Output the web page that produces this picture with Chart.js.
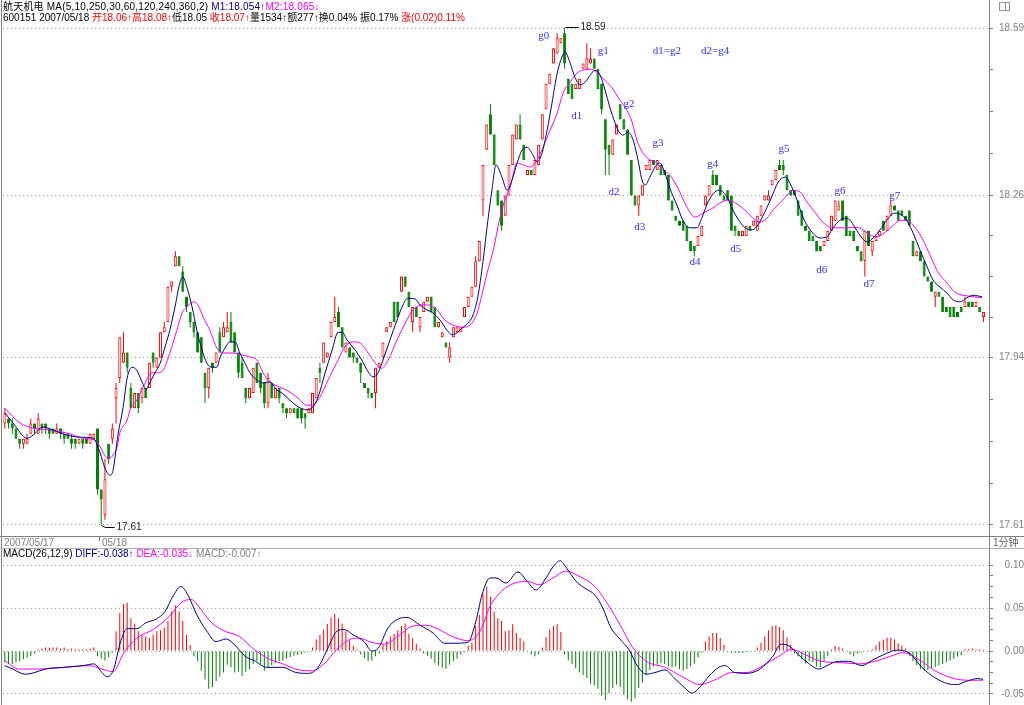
<!DOCTYPE html>
<html>
<head>
<meta charset="utf-8">
<title>航天机电 1分钟</title>
<script src="https://cdn.jsdelivr.net/npm/chart.js@4.4.1/dist/chart.umd.min.js"></script>
<style>
  html, body { margin: 0; padding: 0; background: #fff; }
  body { position: relative; width: 1024px; height: 705px; overflow: hidden;
         font: 10px "Liberation Sans", "Noto Sans CJK SC", sans-serif; color: #000; }
  canvas { position: absolute; left: 0; }
  #priceCanvas { top: 0; }
  #macdCanvas { top: 549px; }
  .txt { position: absolute; white-space: nowrap; line-height: 11px; }
  .ln { position: absolute; background: #808080; }
  .red { color: #ff0000; }
  .navy { color: #000080; }
  .mag { color: #ff00ff; }
  .gray { color: #808080; }
</style>
</head>
<body>
<canvas id="priceCanvas" width="1024" height="536"></canvas>
<canvas id="macdCanvas" width="1024" height="156"></canvas>

<div class="txt" style="left:3px;top:1px;letter-spacing:0.2px">航天机电 MA(5,10,250,30,60,120,240,360,2) <span class="navy">M1:18.054↑</span><span class="mag">M2:18.065↓</span></div>
<div class="txt" style="left:3px;top:12px">600151 2007/05/18 <span class="red">开18.06↑高18.08↑</span>低18.05 <span class="red">收18.07↑</span>量1534↑额277↑换0.04% 振0.17% <span class="red">涨(0.02)0.11%</span></div>

<div class="ln" style="left:1px;top:0;width:1px;height:705px"></div>
<div class="ln" style="left:989px;top:0;width:1px;height:705px"></div>
<div class="ln" style="left:0;top:536px;width:1024px;height:1px"></div>
<div class="ln" style="left:0;top:548px;width:1024px;height:1px;background:#b0b0b0"></div>
<div class="ln" style="left:99px;top:537px;width:1px;height:4px"></div>
<div style="position:absolute;left:999px;top:2px;width:9px;height:7px;border:1px solid #909090"></div>
<div class="ln" style="left:1005px;top:2px;width:1px;height:9px;background:#909090"></div>

<div class="txt gray" style="left:4px;top:537px">2007/05/17</div>
<div class="txt gray" style="left:102px;top:537px">05/18</div>
<div class="txt" style="left:993px;top:537px;color:#606060">1分钟</div>
<div class="txt" style="left:3px;top:548px">MACD(26,12,9) <span class="navy">DIFF:-0.038↑</span> <span class="mag">DEA:-0.035↓</span> <span class="gray">MACD:-0.007↑</span></div>

<script>
// one-minute bars: 25 from 05/17 close, then 05/18
const opens = [
  17.81,17.82,17.81,17.80,17.78,17.77,17.77,17.79,17.81,17.79,
  17.81,17.81,17.80,17.80,17.79,17.80,17.79,17.79,17.78,17.78,
  17.77,17.78,17.78,17.77,17.78,17.80,17.68,17.63,17.77,17.78,
  17.86,17.90,17.93,17.95,17.88,17.84,17.87,17.86,17.88,17.88,
  17.95,17.92,17.94,17.99,18.01,18.08,18.12,18.14,18.11,18.06,
  18.03,18.01,17.99,17.98,17.91,17.88,17.93,17.93,17.99,17.98,
  17.99,18.01,17.99,17.95,17.93,17.88,17.86,17.87,17.93,17.91,
  17.89,17.85,17.89,17.86,17.88,17.85,17.84,17.83,17.84,17.84,
  17.84,17.83,17.83,17.83,17.86,17.92,17.93,17.94,17.98,18.01,
  18.03,18.00,17.95,17.96,17.95,17.94,17.93,17.89,17.88,17.87,
  17.87,17.92,17.94,17.99,18.00,18.05,18.05,18.07,18.10,18.07,
  18.01,18.04,18.00,18.03,18.05,18.06,18.04,18.00,17.98,17.97,
  17.94,17.98,17.99,17.99,18.02,18.04,18.06,18.08,18.13,18.25,
  18.35,18.42,18.38,18.27,18.25,18.22,18.26,18.32,18.37,18.40,
  18.36,18.30,18.31,18.30,18.32,18.37,18.43,18.48,18.52,18.54,
  18.56,18.58,18.49,18.48,18.47,18.47,18.51,18.51,18.52,18.53,
  18.51,18.48,18.41,18.36,18.34,18.38,18.44,18.41,18.39,18.33,
  18.26,18.24,18.26,18.31,18.31,18.33,18.31,18.32,18.31,18.30,
  18.25,18.22,18.21,18.21,18.20,18.17,18.16,18.16,18.18,18.24,
  18.26,18.30,18.30,18.28,18.26,18.27,18.26,18.20,18.19,18.18,
  18.18,18.20,18.20,18.19,18.22,18.25,18.25,18.28,18.29,18.32,
  18.32,18.30,18.27,18.27,18.25,18.23,18.20,18.19,18.18,18.17,
  18.16,18.16,18.17,18.19,18.21,18.23,18.25,18.22,18.19,18.19,
  18.16,18.15,18.13,18.19,18.15,18.17,18.18,18.21,18.19,18.22,
  18.24,18.23,18.23,18.22,18.23,18.17,18.14,18.15,18.13,18.10,
  18.09,18.06,18.07,18.06,18.04,18.04,18.04,18.03,18.04,18.04,
  18.05,18.05,18.04,18.04,18.02
];
const closes = [
  17.83,17.81,17.80,17.78,17.77,17.78,17.78,17.81,17.80,17.82,
  17.80,17.80,17.79,17.79,17.80,17.79,17.78,17.78,17.77,17.77,
  17.78,17.77,17.77,17.79,17.79,17.68,17.66,17.70,17.74,17.80,
  17.88,17.98,17.95,17.92,17.84,17.87,17.84,17.88,17.86,17.93,
  17.93,17.94,17.99,18.00,18.08,18.09,18.14,18.12,18.07,18.04,
  18.01,17.99,17.95,17.93,17.88,17.92,17.92,17.95,17.95,18.00,
  18.00,17.97,17.95,17.91,17.90,17.86,17.88,17.92,17.89,17.88,
  17.85,17.90,17.86,17.88,17.86,17.84,17.83,17.84,17.83,17.82,
  17.82,17.82,17.84,17.87,17.90,17.91,17.97,17.95,18.01,18.02,
  18.00,17.96,17.97,17.94,17.94,17.93,17.91,17.88,17.87,17.86,
  17.92,17.93,17.97,18.00,18.01,18.01,18.02,18.10,18.08,18.04,
  18.04,18.02,18.02,18.05,18.06,18.03,18.00,18.01,17.99,17.96,
  17.96,18.00,18.00,18.00,18.04,18.06,18.08,18.13,18.17,18.32,
  18.40,18.38,18.32,18.24,18.20,18.26,18.32,18.38,18.40,18.37,
  18.33,18.31,18.30,18.33,18.36,18.42,18.48,18.50,18.55,18.57,
  18.57,18.52,18.46,18.45,18.48,18.49,18.52,18.53,18.53,18.51,
  18.47,18.43,18.35,18.34,18.37,18.40,18.41,18.39,18.34,18.26,
  18.24,18.26,18.28,18.32,18.33,18.32,18.33,18.30,18.30,18.25,
  18.23,18.21,18.20,18.19,18.17,18.15,18.15,18.18,18.20,18.26,
  18.28,18.28,18.28,18.26,18.25,18.25,18.19,18.19,18.18,18.19,
  18.20,18.19,18.21,18.22,18.24,18.26,18.26,18.29,18.31,18.31,
  18.31,18.27,18.26,18.26,18.22,18.20,18.19,18.17,18.17,18.15,
  18.15,18.17,18.19,18.22,18.25,18.24,18.21,18.18,18.18,18.17,
  18.15,18.13,18.19,18.16,18.17,18.18,18.19,18.19,18.22,18.24,
  18.23,18.21,18.22,18.21,18.20,18.14,18.15,18.13,18.10,18.09,
  18.07,18.07,18.06,18.03,18.03,18.02,18.02,18.02,18.03,18.05,
  18.04,18.04,18.05,18.03,18.03
];
const highs = [
  17.84,17.82,17.82,17.80,17.78,17.78,17.79,17.82,17.81,17.83,
  17.81,17.81,17.80,17.80,17.81,17.80,17.79,17.79,17.79,17.78,
  17.78,17.78,17.78,17.79,17.79,17.80,17.68,17.74,17.77,17.81,
  17.89,17.98,17.99,17.95,17.89,17.87,17.87,17.88,17.88,17.93,
  17.95,17.94,17.99,18.01,18.08,18.09,18.15,18.14,18.12,18.06,
  18.03,18.01,17.99,17.98,17.91,17.92,17.93,17.95,18.00,18.01,
  18.03,18.03,17.99,17.95,17.94,17.88,17.88,17.92,17.93,17.91,
  17.89,17.91,17.89,17.88,17.88,17.85,17.84,17.84,17.84,17.84,
  17.84,17.83,17.84,17.87,17.90,17.93,17.97,17.95,18.01,18.06,
  18.04,18.00,17.97,17.96,17.95,17.94,17.93,17.89,17.88,17.87,
  17.92,17.93,17.97,18.00,18.01,18.05,18.05,18.10,18.10,18.07,
  18.04,18.04,18.02,18.05,18.06,18.06,18.04,18.01,17.99,17.97,
  17.97,18.00,18.00,18.00,18.04,18.06,18.08,18.14,18.17,18.32,
  18.40,18.44,18.38,18.27,18.25,18.26,18.32,18.38,18.40,18.42,
  18.36,18.31,18.31,18.33,18.36,18.42,18.48,18.50,18.55,18.58,
  18.57,18.59,18.49,18.48,18.48,18.49,18.52,18.56,18.55,18.53,
  18.51,18.48,18.41,18.36,18.37,18.40,18.44,18.41,18.39,18.33,
  18.26,18.26,18.28,18.32,18.33,18.33,18.33,18.32,18.31,18.30,
  18.25,18.22,18.21,18.21,18.20,18.17,18.16,18.18,18.20,18.26,
  18.28,18.31,18.30,18.28,18.26,18.27,18.26,18.20,18.19,18.19,
  18.20,18.20,18.21,18.22,18.24,18.26,18.27,18.29,18.31,18.33,
  18.33,18.30,18.27,18.27,18.25,18.23,18.20,18.19,18.18,18.17,
  18.16,18.17,18.19,18.22,18.25,18.25,18.25,18.22,18.19,18.19,
  18.16,18.15,18.19,18.19,18.17,18.18,18.19,18.21,18.22,18.25,
  18.24,18.23,18.23,18.22,18.23,18.17,18.15,18.15,18.13,18.10,
  18.09,18.07,18.07,18.06,18.04,18.04,18.04,18.03,18.04,18.06,
  18.05,18.05,18.05,18.04,18.03
];
const lows = [
  17.80,17.80,17.79,17.78,17.76,17.76,17.77,17.79,17.79,17.79,
  17.79,17.79,17.78,17.79,17.79,17.78,17.77,17.78,17.76,17.76,
  17.77,17.76,17.77,17.77,17.78,17.67,17.61,17.62,17.73,17.77,
  17.81,17.89,17.93,17.91,17.84,17.84,17.83,17.85,17.86,17.88,
  17.92,17.92,17.94,17.99,18.01,18.07,18.12,18.12,18.07,18.03,
  18.00,17.98,17.95,17.93,17.85,17.86,17.91,17.93,17.95,17.98,
  17.99,17.97,17.95,17.90,17.90,17.85,17.86,17.87,17.89,17.87,
  17.84,17.84,17.86,17.86,17.85,17.83,17.82,17.83,17.83,17.82,
  17.81,17.80,17.83,17.83,17.86,17.89,17.93,17.94,17.98,18.01,
  18.00,17.96,17.95,17.94,17.93,17.93,17.89,17.88,17.86,17.86,
  17.84,17.92,17.94,17.99,18.00,18.01,18.02,18.07,18.08,18.04,
  17.99,18.02,17.99,18.03,18.05,18.03,18.00,18.00,17.98,17.96,
  17.93,17.98,17.99,17.99,18.02,18.04,18.06,18.08,18.13,18.22,
  18.35,18.38,18.32,18.24,18.19,18.22,18.26,18.32,18.37,18.37,
  18.33,18.30,18.30,18.30,18.32,18.37,18.43,18.48,18.52,18.54,
  18.56,18.51,18.46,18.45,18.47,18.47,18.51,18.51,18.52,18.51,
  18.47,18.42,18.30,18.30,18.34,18.38,18.41,18.39,18.34,18.26,
  18.24,18.22,18.26,18.31,18.31,18.32,18.31,18.30,18.30,18.25,
  18.23,18.21,18.20,18.19,18.17,18.15,18.14,18.16,18.18,18.24,
  18.26,18.28,18.28,18.26,18.25,18.25,18.19,18.18,18.18,18.18,
  18.18,18.19,18.20,18.19,18.22,18.25,18.25,18.28,18.29,18.31,
  18.30,18.27,18.26,18.26,18.22,18.20,18.19,18.17,18.17,18.15,
  18.15,18.16,18.17,18.19,18.21,18.23,18.21,18.18,18.18,18.17,
  18.15,18.13,18.10,18.16,18.14,18.17,18.18,18.19,18.19,18.22,
  18.23,18.21,18.22,18.21,18.20,18.14,18.14,18.13,18.10,18.09,
  18.07,18.04,18.06,18.03,18.03,18.02,18.02,18.02,18.03,18.04,
  18.04,18.04,18.04,18.03,18.01
];

// moving-average lines: [bar index, price]
const ma5Line = [[0,17.831],[2.2,17.811],[6,17.781],[7.6,17.787],[10.3,17.803],[13,17.797],[16.8,17.787],[20.3,17.783],[23.8,17.781],[25.7,17.752],[27,17.722],[28.4,17.708],[29.2,17.718],[30.5,17.787],[31.9,17.842],[33,17.9],[34.3,17.921],[35.6,17.915],[37,17.892],[38.1,17.878],[39.2,17.892],[40.5,17.91],[41.9,17.929],[43.2,17.961],[44.5,17.994],[45.9,18.04],[47.2,18.087],[48,18.099],[49.1,18.079],[50.5,18.04],[51.8,17.994],[53.2,17.955],[54.5,17.929],[55.9,17.921],[57.2,17.921],[58,17.939],[59.4,17.959],[60.7,17.971],[62.1,17.971],[63.4,17.949],[64.8,17.929],[66.1,17.91],[68,17.896],[69.6,17.89],[71.5,17.892],[73.4,17.876],[74.8,17.87],[76.9,17.856],[79.1,17.843],[81.5,17.837],[82.9,17.841],[84.5,17.862],[86.4,17.91],[88.3,17.955],[89.9,17.99],[91,17.99],[92.3,17.975],[94.5,17.955],[96.3,17.935],[98,17.912],[99.3,17.902],[100.7,17.91],[102,17.935],[103.9,17.975],[105.8,18.014],[107.4,18.044],[108.7,18.057],[110.6,18.056],[112,18.044],[113.9,18.034],[115.5,18.028],[117.4,18.014],[119.3,17.994],[120.6,17.985],[122,17.989],[123.3,17.998],[124.9,18.008],[126.3,18.024],[127.6,18.06],[129,18.13],[130.3,18.21],[131.4,18.27],[132.5,18.32],[134.1,18.296],[135.5,18.27],[136.8,18.29],[138.2,18.324],[139.5,18.349],[140.9,18.355],[142.2,18.343],[143.6,18.326],[144.9,18.343],[146.3,18.389],[147.6,18.442],[149,18.501],[150.3,18.533],[151.1,18.543],[152.5,18.521],[153.8,18.493],[155.2,18.478],[156.5,18.483],[157.9,18.497],[159.2,18.507],[160.6,18.497],[161.9,18.468],[163.2,18.434],[164.6,18.403],[165.9,18.383],[166.8,18.379],[168.1,18.385],[169.5,18.369],[170.8,18.33],[171.9,18.29],[172.7,18.28],[174,18.296],[175.4,18.316],[176.7,18.324],[178.1,18.304],[179.4,18.274],[181.3,18.241],[182.9,18.211],[184.8,18.196],[186.7,18.196],[188,18.215],[189.7,18.247],[191.6,18.267],[192.9,18.27],[194.8,18.257],[196.4,18.231],[197.8,18.213],[199.7,18.196],[201.6,18.192],[203.2,18.202],[205,18.227],[206.9,18.257],[208.6,18.286],[210.5,18.296],[211.8,18.284],[213.7,18.251],[215.3,18.217],[217.7,18.188],[219.9,18.176],[221.8,18.178],[223.4,18.196],[225.3,18.211],[226.6,18.215],[228,18.211],[229.3,18.197],[231.2,18.176],[232.8,18.168],[234.2,18.176],[236.1,18.192],[237.9,18.211],[240.1,18.225],[242,18.221],[243.6,18.207],[245,18.186],[246.9,18.152],[248.8,18.119],[250.4,18.093],[252.3,18.079],[254.2,18.067],[255.8,18.054],[257.7,18.05],[259.5,18.058],[261.2,18.063],[263.6,18.06]];
const ma10Line = [[0,17.84],[4.1,17.811],[7.6,17.801],[12.2,17.797],[16.8,17.791],[21.1,17.781],[24.3,17.777],[25.7,17.764],[27.6,17.742],[28.4,17.742],[29.2,17.748],[30.3,17.764],[31,17.791],[33,17.817],[33.8,17.837],[35.6,17.856],[37.3,17.882],[39.7,17.91],[41,17.91],[42.7,17.915],[44.5,17.949],[46.4,17.994],[47.8,18.028],[49.1,18.04],[50.8,18.05],[52.1,18.044],[53.5,18.02],[55.3,17.994],[57.2,17.959],[58.8,17.949],[61.5,17.949],[64.2,17.945],[66.1,17.941],[68,17.935],[69.6,17.911],[71.5,17.892],[74.2,17.882],[76.9,17.872],[79.1,17.86],[81.5,17.846],[82.9,17.846],[85,17.862],[87.2,17.896],[89.6,17.931],[91.7,17.961],[93.9,17.971],[95.8,17.969],[98,17.949],[100.4,17.925],[101.7,17.919],[103.4,17.935],[105.8,17.975],[108,18.008],[110.1,18.034],[112.5,18.044],[114.1,18.044],[116.6,18.034],[118.7,18.014],[120.9,18.004],[123.6,18.0],[125.5,18.004],[127.4,18.028],[129,18.073],[130.1,18.107],[131.7,18.15],[133.6,18.217],[134.9,18.251],[136.3,18.276],[138.2,18.324],[139.8,18.32],[141.7,18.316],[143.6,18.33],[145.2,18.355],[147.1,18.389],[149,18.422],[150.6,18.462],[152.5,18.483],[154.3,18.501],[155.9,18.507],[157.9,18.509],[159.7,18.503],[161.3,18.491],[163.8,18.472],[165.9,18.448],[167.8,18.428],[169.2,18.405],[170.5,18.369],[172.2,18.343],[174,18.33],[175.9,18.324],[177.5,18.31],[179.4,18.3],[181.6,18.274],[184,18.237],[186.2,18.217],[188.3,18.225],[191,18.235],[192.9,18.245],[195.1,18.251],[197.5,18.243],[200.2,18.227],[201.8,18.215],[203.7,18.207],[205.6,18.215],[207.2,18.231],[209.9,18.251],[212.6,18.27],[214.5,18.267],[216.4,18.247],[218.5,18.227],[220.7,18.207],[223.1,18.196],[225.3,18.196],[227.4,18.196],[229.9,18.197],[231.5,18.192],[233.4,18.182],[235.3,18.178],[236.9,18.184],[239.3,18.198],[241.5,18.211],[243.4,18.211],[245.5,18.197],[247.7,18.172],[249.6,18.142],[251.7,18.109],[254.2,18.087],[256.3,18.069],[258.5,18.063],[261.2,18.06],[263.6,18.058]];

// MACD panel
const macdBars = [
  -0.0135,-0.015,-0.015,-0.0135,-0.0115,-0.0096,-0.0077,-0.0058,-0.003,
  0.002,0.003,0.004,0.004,0.004,0.004,0.003,0.004,0.002,0.003,0.002,0.002,0.002,0.002,0.003,0.004,
  -0.006,-0.0085,-0.011,-0.0077,-0.002,
  0.023,0.044,0.0546,0.056,0.038,0.031,0.023,0.019,0.017,0.015,0.019,0.023,0.024,0.027,0.035,0.046,0.053,0.046,0.035,0.019,0.007,
  -0.006,-0.012,-0.023,-0.033,-0.044,-0.042,-0.035,-0.03,-0.025,-0.016,-0.019,-0.025,-0.024,-0.029,-0.024,-0.021,-0.015,-0.0115,-0.015,-0.023,-0.019,-0.0165,-0.014,-0.0115,-0.011,-0.009,-0.007,-0.0054,-0.0046,-0.0035,-0.002,-0.001,
  0.004,0.0135,0.019,0.025,0.0315,0.039,0.043,0.038,0.032,0.023,0.012,0.006,0.002,
  -0.004,-0.0085,-0.012,-0.011,-0.006,-0.003,
  0.007,0.0115,0.017,0.02,0.024,0.029,0.032,0.02,0.0146,0.0085,0.003,
  -0.003,-0.0054,-0.009,-0.014,-0.017,-0.0196,-0.021,-0.016,-0.012,-0.009,-0.004,-0.0015,
  0.006,0.0096,0.029,0.042,0.067,0.075,0.0635,0.046,0.038,0.035,0.023,0.024,0.031,0.021,0.015,0.011,
  -0.001,-0.004,-0.006,-0.004,
  0.004,0.016,0.025,0.029,0.031,0.022,
  -0.004,-0.011,-0.015,-0.02,-0.025,-0.028,-0.0315,-0.038,-0.04,-0.044,-0.052,-0.057,-0.049,-0.043,-0.039,-0.042,-0.051,-0.056,-0.059,-0.055,-0.043,-0.0365,-0.028,-0.022,-0.018,-0.016,-0.014,-0.015,-0.018,-0.019,-0.018,-0.021,-0.023,-0.021,-0.018,-0.0146,-0.0077,-0.002,
  0.011,0.017,0.021,0.021,0.015,0.007,
  -0.0015,-0.002,-0.002,-0.0023,-0.0023,-0.0015,-0.001,
  0.001,0.004,0.0096,0.017,0.024,0.029,0.03,0.028,0.024,0.016,0.007,
  -0.003,-0.006,-0.0096,-0.0146,-0.012,-0.0135,-0.018,-0.019,-0.012,-0.006,
  0.002,0.006,0.0046,0.003,0.001,
  -0.004,-0.006,-0.003,-0.002,-0.001,
  0.001,0.002,0.0065,0.011,0.013,0.0154,0.0154,0.0135,0.009,0.0065,0.003,
  -0.006,-0.012,-0.0165,-0.021,-0.023,-0.022,-0.021,-0.019,-0.017,-0.015,-0.013,-0.011,-0.009,-0.0065,-0.0046,
  0.002,0.002,0.003,0.002,0.002,0.0015
];
const diffLine = [[0,-0.017],[2.2,-0.021],[5.4,-0.027],[8.1,-0.025],[10.8,-0.021],[16,-0.019],[21.1,-0.017],[24,-0.015],[26.2,-0.025],[27.6,-0.03],[29.2,-0.023],[31.3,0.012],[33,0.026],[35.6,0.026],[38.1,0.033],[40.8,0.037],[43.2,0.046],[45.4,0.064],[47.5,0.075],[49.4,0.065],[51.8,0.042],[54.5,0.023],[57,0.011],[59.7,0.014],[61.8,0.008],[64.8,-0.006],[67.2,-0.011],[70.7,-0.019],[75,-0.019],[78.5,-0.025],[82,-0.026],[84.5,-0.019],[87.2,0.004],[89.6,0.023],[91.5,0.025],[93.9,0.019],[96.9,0.011],[99,0.0],[100.7,0.003],[103.4,0.027],[106,0.037],[108.5,0.039],[112,0.03],[115.5,0.021],[118.7,0.009],[121.4,0.009],[124.9,0.01],[127.1,0.035],[128.7,0.065],[130.9,0.085],[132.5,0.085],[135.2,0.079],[138.4,0.092],[140.9,0.081],[143.3,0.071],[146,0.085],[147.9,0.098],[149.8,0.105],[151.6,0.096],[154.1,0.081],[156.5,0.073],[159.2,0.065],[161.3,0.05],[163.5,0.027],[165.9,0.014],[168.6,0.0],[170.3,-0.015],[173,-0.027],[175.4,-0.025],[178.1,-0.022],[180.5,-0.031],[183.2,-0.042],[185.4,-0.049],[187.5,-0.042],[190,-0.029],[192.6,-0.019],[194.3,-0.017],[196.9,-0.025],[200.2,-0.026],[203.7,-0.021],[207.2,-0.006],[209.4,0.008],[211.5,0.006],[214,-0.004],[216.7,-0.014],[219.6,-0.021],[221.8,-0.017],[224.8,-0.012],[227.7,-0.012],[231.2,-0.017],[233.9,-0.011],[237.2,-0.004],[240.7,0.001],[244.2,-0.003],[247.4,-0.019],[250.9,-0.031],[254.4,-0.038],[256.8,-0.039],[259.6,-0.035],[262.5,-0.032],[263.9,-0.033]];
const deaLine = [[0,-0.011],[3.8,-0.021],[8.9,-0.021],[16,-0.019],[22.7,-0.017],[26.2,-0.021],[29.2,-0.024],[32.1,-0.002],[35.6,0.015],[40,0.025],[44.3,0.04],[47.5,0.056],[50.2,0.06],[52.6,0.05],[55.3,0.035],[58.8,0.024],[63.2,0.017],[67.2,0.002],[70.7,-0.008],[75,-0.015],[79.3,-0.022],[82.9,-0.023],[86.1,-0.015],[89.6,0.002],[93.1,0.0135],[95.5,0.015],[99,0.01],[102.5,0.008],[106,0.017],[110.1,0.029],[113.6,0.03],[117.1,0.025],[120.6,0.017],[124.9,0.012],[128.2,0.023],[130.9,0.052],[134.4,0.071],[137.6,0.079],[141.1,0.081],[144.1,0.077],[147.9,0.085],[151.4,0.093],[154.9,0.087],[159.2,0.075],[162.7,0.054],[165.9,0.031],[169.4,0.004],[173,-0.012],[178.1,-0.019],[183.2,-0.031],[187.5,-0.039],[191.8,-0.033],[196.2,-0.025],[200.2,-0.025],[204.5,-0.017],[208.8,-0.006],[212.3,0.002],[215.8,-0.004],[220.2,-0.012],[225.3,-0.0135],[230.4,-0.015],[234.7,-0.012],[239,-0.006],[242.3,-0.002],[246.6,-0.01],[250.9,-0.023],[255.2,-0.031],[259.6,-0.034],[262.5,-0.034],[263.9,-0.034]];

// axis labels
const priceTicks = [17.61, 17.94, 18.26, 18.59];
const macdTicks = [-0.05, 0, 0.05, 0.10];

// wave labels written on the price panel
const tagText  = ['g0','g1','d1=g2','d2=g4','d1','g2','g3','d2','d3','g4','d4','d5','g5','g6','d6','d7','g7'];
const tagIdx   = [145.4,161.4,178.6,191.6,154.3,168.4,176.2,164.3,171.3,191,186.2,197.2,210.2,225.3,220.4,233.1,240.1];
const tagPrice = [18.574,18.545,18.545,18.545,18.416,18.44,18.363,18.267,18.198,18.322,18.128,18.154,18.351,18.268,18.113,18.085,18.259];

const UP = '#ff0000', DOWN = '#008000';
const FONT = '"Liberation Sans", "Noto Sans CJK SC", sans-serif';
Chart.defaults.font.family = FONT;

const barIdx = opens.map((_, i) => i);
const isUp = i => closes[i] >= opens[i];
const pts = arr => arr.map(([x, y]) => ({ x, y }));

function rightAxis(min, max, majors) {
  const vals = [];
  for (let k = 0; k < majors.length - 1; k++) {
    for (let j = 0; j < 4; j++) vals.push(majors[k] + (majors[k + 1] - majors[k]) * j / 4);
  }
  vals.push(majors[majors.length - 1]);
  const isMajor = v => majors.some(m => Math.abs(m - v) < 1e-9);
  return {
    position: 'right', min, max,
    // fixed width, and no extra room for the end labels so the plot keeps its full height
    afterFit: s => { s.width = 35; s.paddingTop = 0; s.paddingBottom = 0; },
    afterBuildTicks: s => { s.ticks = vals.map(v => ({ value: v })); },
    ticks: { autoSkip: false, color: '#808080', padding: 2, crossAlign: 'far', font: { size: 10 },
             callback: v => isMajor(v) ? v.toFixed(2) : '' },
    grid: { color: c => (c.tick && isMajor(c.tick.value)) ? '#a0a0a0' : 'rgba(0,0,0,0)',
            tickColor: '#808080', tickLength: 4, tickBorderDash: [], lineWidth: 1 },
    border: { display: false, dash: [1, 3] }
  };
}

const xAxis = { type: 'linear', min: -0.5, max: 265.5, offset: false, display: false };

const tagPlugin = {
  id: 'tags',
  afterDatasetsDraw(chart) {
    const { ctx, scales: { x, y } } = chart;
    ctx.save();
    ctx.font = '11px "Liberation Serif", serif';
    ctx.fillStyle = '#3030ff';
    ctx.textAlign = 'center';
    ctx.textBaseline = 'middle';
    tagText.forEach((t, k) => ctx.fillText(t, x.getPixelForValue(tagIdx[k]), y.getPixelForValue(tagPrice[k])));

    // highest / lowest price markers
    const hiI = highs.indexOf(Math.max(...highs));
    const loI = lows.indexOf(Math.min(...lows));
    ctx.strokeStyle = '#000';
    ctx.lineWidth = 1;
    ctx.fillStyle = '#202020';
    ctx.font = '10px ' + FONT;
    ctx.textAlign = 'left';
    let px = Math.round(x.getPixelForValue(hiI)) + 0.5;
    let py = Math.round(y.getPixelForValue(highs[hiI])) - 0.5;
    ctx.beginPath(); ctx.moveTo(px, py); ctx.lineTo(px + 13, py); ctx.stroke();
    ctx.fillText(highs[hiI].toFixed(2), px + 15, py);
    px = Math.round(x.getPixelForValue(loI)) + 0.5;
    py = Math.round(y.getPixelForValue(lows[loI])) + 0.5;
    ctx.beginPath(); ctx.moveTo(px, py); ctx.lineTo(px + 4, py + 2); ctx.lineTo(px + 13, py + 2); ctx.stroke();
    ctx.fillText(lows[loI].toFixed(2), px + 15, py + 2);
    ctx.restore();
  }
};

new Chart(document.getElementById('priceCanvas'), {
  type: 'bar',
  data: {
    datasets: [
      { type: 'line', label: 'M1', data: pts(ma5Line), borderColor: '#000080', borderWidth: 1,
        pointRadius: 0, cubicInterpolationMode: 'monotone', order: 1 },
      { type: 'line', label: 'M2', data: pts(ma10Line), borderColor: '#ff00ff', borderWidth: 1,
        pointRadius: 0, cubicInterpolationMode: 'monotone', order: 2 },
      { label: 'body', data: barIdx.map(i => ({ x: i, y: [opens[i], closes[i]] })),
        barThickness: 3, grouped: false, borderSkipped: false, borderWidth: 1, inflateAmount: 0,
        backgroundColor: c => isUp(c.dataIndex) ? '#ffffff' : DOWN,
        borderColor: c => isUp(c.dataIndex) ? UP : DOWN, order: 3 },
      { label: 'wick', data: barIdx.map(i => ({ x: i, y: [lows[i], highs[i]] })),
        barThickness: 1, grouped: false, borderWidth: 0, inflateAmount: 0,
        backgroundColor: c => isUp(c.dataIndex) ? UP : DOWN, order: 4 }
    ]
  },
  options: {
    responsive: false, animation: false, events: [],
    layout: { padding: { left: 3, top: 22, right: 0, bottom: 3 } },
    plugins: { legend: { display: false }, tooltip: { enabled: false } },
    scales: { x: xAxis, y: rightAxis(17.594, 18.602, priceTicks) }
  },
  plugins: [tagPlugin]
});

new Chart(document.getElementById('macdCanvas'), {
  type: 'bar',
  data: {
    datasets: [
      { type: 'line', label: 'DIFF', data: pts(diffLine), borderColor: '#000080', borderWidth: 1,
        pointRadius: 0, cubicInterpolationMode: 'monotone', order: 1 },
      { type: 'line', label: 'DEA', data: pts(deaLine), borderColor: '#ff00ff', borderWidth: 1,
        pointRadius: 0, cubicInterpolationMode: 'monotone', order: 2 },
      { label: 'MACD', data: macdBars.map((v, i) => ({ x: i, y: v })),
        barThickness: 1, grouped: false, borderWidth: 0, inflateAmount: 0,
        backgroundColor: c => macdBars[c.dataIndex] >= 0 ? UP : DOWN, order: 3 }
    ]
  },
  options: {
    responsive: false, animation: false, events: [],
    layout: { padding: { left: 3, top: 2, right: 0, bottom: 0 } },
    plugins: { legend: { display: false }, tooltip: { enabled: false } },
    scales: { x: xAxis, y: rightAxis(-0.0628, 0.1163, macdTicks) }
  }
});
</script>
</body>
</html>
